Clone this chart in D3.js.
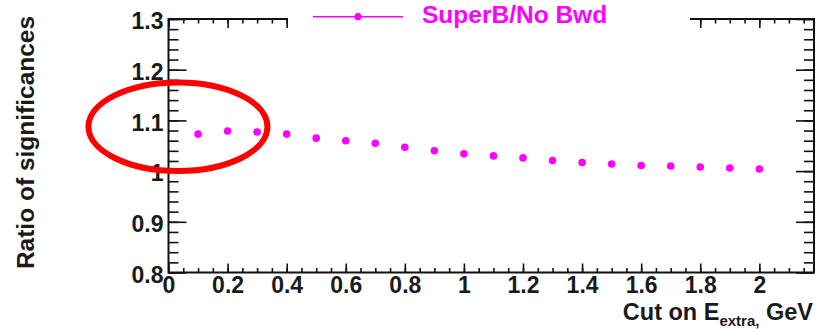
<!DOCTYPE html>
<html>
<head>
<meta charset="utf-8">
<script src="https://cdn.jsdelivr.net/npm/d3@7"></script>
<style>
  html, body { margin: 0; padding: 0; background: #fff; }
  svg { display: block; }
  text { font-family: "Liberation Sans", Arial, Helvetica, sans-serif; font-weight: bold; }
</style>
</head>
<body>
<svg id="chart" width="825" height="329"></svg>
<script>
// Cut values on E_extra (GeV)
const cuts = [0.1, 0.2, 0.3, 0.4, 0.5, 0.6, 0.7, 0.8, 0.9, 1.0,
              1.1, 1.2, 1.3, 1.4, 1.5, 1.6, 1.7, 1.8, 1.9, 2.0];
// Ratio of significances, SuperB over the no-backward-detector configuration
const ratios = [1.073, 1.079, 1.077, 1.073, 1.065, 1.060, 1.055, 1.047, 1.040, 1.034,
                1.030, 1.026, 1.021, 1.017, 1.014, 1.011, 1.010, 1.008, 1.006, 1.004];
const seriesName = "SuperB/No Bwd";

// Axis ticks
const xMajorTicks = [0, 0.2, 0.4, 0.6, 0.8, 1.0, 1.2, 1.4, 1.6, 1.8, 2.0];
const xMinorTicks = d3.range(0, 44).map(i => i * 0.05);
const yMajorTicks = [0.8, 0.9, 1.0, 1.1, 1.2, 1.3];
const yMinorTicks = d3.range(0, 26).map(i => 0.8 + i * 0.02);
const xDomain = [0, 2.185];
const yDomain = [0.8, 1.3];

// Highlight ellipse around the low-cut region (data units)
const highlight = { cx: 0.032, cy: 1.0876, rx: 0.303, ry: 0.0874 };

const svg = d3.select("#chart");
const frame = { left: 168.5, right: 814, top: 19, bottom: 272.5 };

const x = d3.scaleLinear().domain(xDomain).range([frame.left, frame.right]);
const y = d3.scaleLinear().domain(yDomain).range([frame.bottom, frame.top]);

const fmt = d => d3.format("")(+d.toFixed(1));

function styleAxis(g) {
  g.select(".domain").remove();
  g.selectAll(".tick line").attr("stroke", "#111").attr("stroke-width", 1.6);
  g.selectAll(".tick text").attr("fill", "#1a1a1a")
    .style("font-size", "23px").style("font-family", "'Liberation Sans', Arial, sans-serif")
    .style("font-weight", "bold");
}

// Left axis: minor + labelled major ticks pointing inward
svg.append("g").attr("transform", `translate(${frame.left},0)`)
  .call(d3.axisLeft(y).tickValues(yMinorTicks).tickSize(-10).tickFormat(""))
  .call(styleAxis);
svg.append("g").attr("transform", `translate(${frame.left},0)`)
  .call(d3.axisLeft(y).tickValues(yMajorTicks).tickSize(-18).tickPadding(5).tickFormat(fmt))
  .call(styleAxis)
  .call(g => g.selectAll(".tick text").attr("dy", "0.42em"));

// Right axis: ticks only
svg.append("g").attr("transform", `translate(${frame.right},0)`)
  .call(d3.axisRight(y).tickValues(yMinorTicks).tickSize(-10).tickFormat(""))
  .call(styleAxis);
svg.append("g").attr("transform", `translate(${frame.right},0)`)
  .call(d3.axisRight(y).tickValues(yMajorTicks).tickSize(-18).tickFormat(""))
  .call(styleAxis);

// Bottom axis
svg.append("g").attr("transform", `translate(0,${frame.bottom})`)
  .call(d3.axisBottom(x).tickValues(xMinorTicks).tickSize(-4.5).tickFormat(""))
  .call(styleAxis);
svg.append("g").attr("transform", `translate(0,${frame.bottom})`)
  .call(d3.axisBottom(x).tickValues(xMajorTicks).tickSize(-9).tickPadding(4).tickFormat(fmt))
  .call(styleAxis)
  .call(g => g.selectAll(".tick text").attr("dy", "0.72em"));

// Top axis: ticks only
svg.append("g").attr("transform", `translate(0,${frame.top})`)
  .call(d3.axisTop(x).tickValues(xMinorTicks).tickSize(-4.5).tickFormat(""))
  .call(styleAxis);
svg.append("g").attr("transform", `translate(0,${frame.top})`)
  .call(d3.axisTop(x).tickValues(xMajorTicks).tickSize(-9).tickFormat(""))
  .call(styleAxis);

// Frame
svg.append("rect")
  .attr("x", frame.left).attr("y", frame.top)
  .attr("width", frame.right - frame.left).attr("height", frame.bottom - frame.top)
  .attr("fill", "none").attr("stroke", "#111").attr("stroke-width", 2);

// Data points
const data = cuts.map((c, i) => ({ cut: c, ratio: ratios[i] }));
svg.append("g").selectAll("circle").data(data).join("circle")
  .attr("cx", d => x(d.cut)).attr("cy", d => y(d.ratio))
  .attr("r", 3.8).attr("fill", "#ff00ff");

// Highlight ellipse
svg.append("ellipse")
  .attr("cx", x(highlight.cx)).attr("cy", y(highlight.cy))
  .attr("rx", x(highlight.cx + highlight.rx) - x(highlight.cx))
  .attr("ry", y(highlight.cy) - y(highlight.cy + highlight.ry))
  .attr("fill", "none").attr("stroke", "#f00").attr("stroke-width", 6);

// Legend: opaque white box drawn over the top frame edge
const legend = svg.append("g");
legend.append("rect").attr("x", 288).attr("y", 0).attr("width", 402).attr("height", 40)
  .attr("fill", "#fff");
legend.append("line").attr("x1", 313).attr("x2", 403).attr("y1", 16.7).attr("y2", 16.7)
  .attr("stroke", "#ff00ff").attr("stroke-width", 1.6);
legend.append("circle").attr("cx", 358).attr("cy", 16.7).attr("r", 3.6).attr("fill", "#ff00ff");
legend.append("text").attr("x", 422).attr("y", 23.3)
  .attr("fill", "#ff00ff").style("font-size", "24.5px").text(seriesName);

// Axis titles
const xt = svg.append("text").attr("x", 813).attr("y", 320).attr("text-anchor", "end")
  .attr("fill", "#1a1a1a").style("font-size", "23.5px");
xt.append("tspan").text("Cut on E");
xt.append("tspan").attr("dy", 6).style("font-size", "15px").text("extra,");
xt.append("tspan").attr("dy", -6).text(" GeV");

svg.append("text")
  .attr("transform", "translate(34.3,142.5) rotate(-90)")
  .attr("text-anchor", "middle").attr("fill", "#1a1a1a")
  .style("font-size", "24.5px").text("Ratio of significances");
</script>
</body>
</html>
